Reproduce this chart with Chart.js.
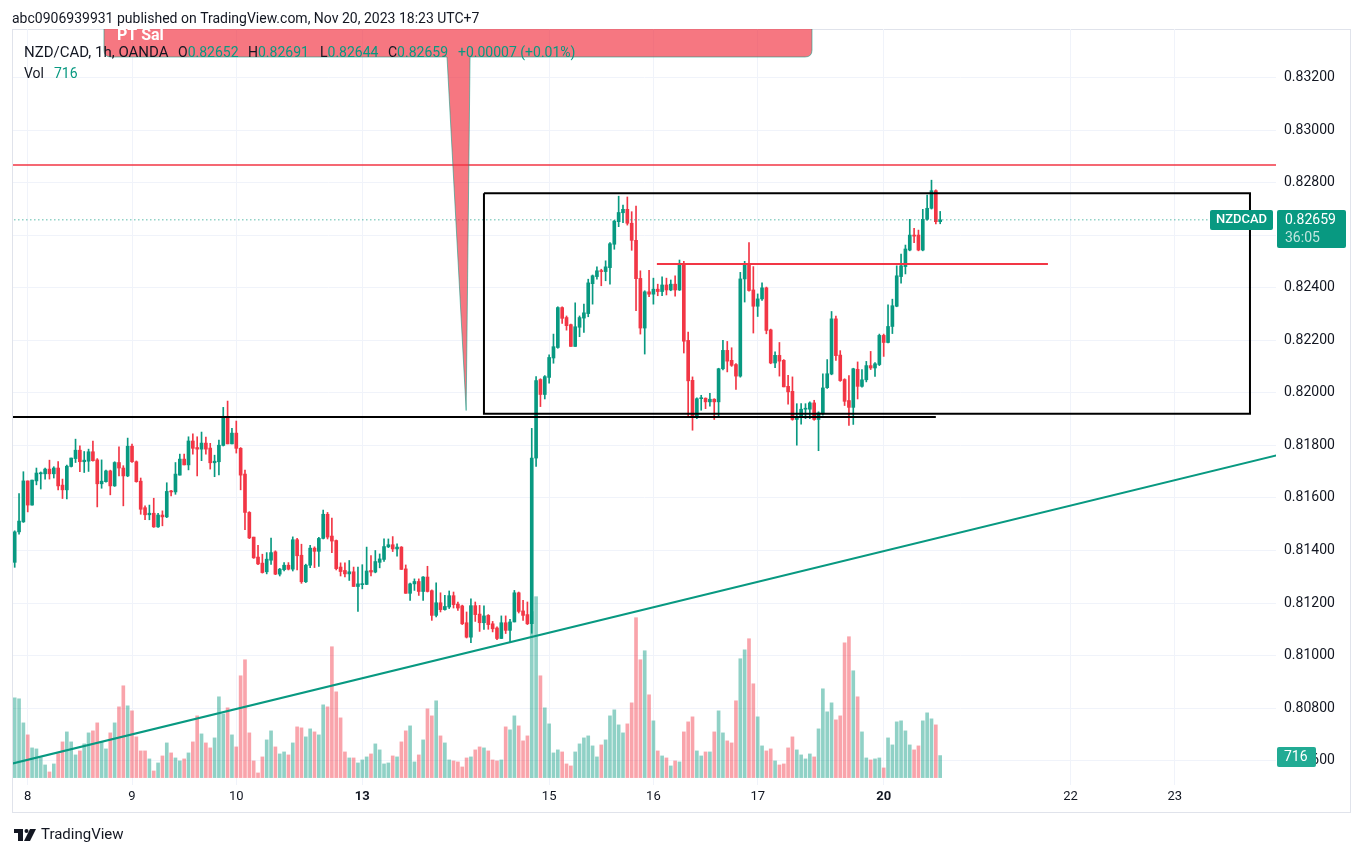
<!DOCTYPE html>
<html>
<head>
<meta charset="utf-8">
<title>NZD/CAD 1h</title>
<script src="https://cdn.jsdelivr.net/npm/chart.js@4.4.0/dist/chart.umd.min.js"></script>
<style>
  html, body { margin: 0; padding: 0; background: #ffffff; }
  #wrap { position: relative; width: 1364px; height: 857px; }
</style>
</head>
<body>
<div id="wrap"><canvas id="chart" width="1364" height="857"></canvas></div>
<script>
// hourly bars, index 0 = Nov 7 21:00 (UTC+7)
const opens = [
  0.81355, 0.81471, 0.81509, 0.81665, 0.81573, 0.81665, 0.81692, 0.81692, 0.81710, 0.81692,
  0.81714, 0.81649, 0.81631, 0.81720, 0.81750, 0.81782, 0.81738, 0.81740, 0.81776, 0.81745,
  0.81654, 0.81662, 0.81703, 0.81646, 0.81735, 0.81714, 0.81684, 0.81797, 0.81738, 0.81664,
  0.81563, 0.81536, 0.81542, 0.81490, 0.81535, 0.81528, 0.81626, 0.81623, 0.81687, 0.81748,
  0.81726, 0.81817, 0.81792, 0.81786, 0.81809, 0.81790, 0.81734, 0.81738, 0.81800, 0.81910,
  0.81806, 0.81847, 0.81789, 0.81691, 0.81545, 0.81451, 0.81375, 0.81352, 0.81319, 0.81363,
  0.81395, 0.81310, 0.81327, 0.81344, 0.81329, 0.81441, 0.81382, 0.81281, 0.81344, 0.81409,
  0.81397, 0.81446, 0.81538, 0.81455, 0.81438, 0.81337, 0.81324, 0.81311, 0.81319, 0.81263,
  0.81270, 0.81271, 0.81324, 0.81318, 0.81355, 0.81366, 0.81414, 0.81422, 0.81406, 0.81413,
  0.81330, 0.81237, 0.81273, 0.81282, 0.81244, 0.81299, 0.81247, 0.81153, 0.81201, 0.81175,
  0.81185, 0.81228, 0.81196, 0.81189, 0.81125, 0.81070, 0.81190, 0.81158, 0.81125, 0.81153,
  0.81121, 0.81105, 0.81065, 0.81125, 0.81096, 0.81128, 0.81239, 0.81170, 0.81156, 0.81121,
  0.81752, 0.82051, 0.81994, 0.82059, 0.82133, 0.82173, 0.82325, 0.82287, 0.82260, 0.82177,
  0.82250, 0.82285, 0.82302, 0.82416, 0.82443, 0.82465, 0.82462, 0.82477, 0.82566, 0.82652,
  0.82686, 0.82699, 0.82646, 0.82581, 0.82436, 0.82247, 0.82385, 0.82376, 0.82395, 0.82386,
  0.82411, 0.82392, 0.82414, 0.82392, 0.82491, 0.82200, 0.82048, 0.81909, 0.81978, 0.81980,
  0.81966, 0.81976, 0.81966, 0.82092, 0.82162, 0.82124, 0.82108, 0.82064, 0.82434, 0.82489,
  0.82392, 0.82330, 0.82358, 0.82400, 0.82240, 0.82114, 0.82143, 0.82124, 0.82025, 0.82006,
  0.81899, 0.81911, 0.81938, 0.81938, 0.81962, 0.81899, 0.81922, 0.82020, 0.82072, 0.82282,
  0.82144, 0.82051, 0.81971, 0.81945, 0.82090, 0.82025, 0.82050, 0.82104, 0.82095, 0.82108,
  0.82219, 0.82192, 0.82253, 0.82330, 0.82443, 0.82481, 0.82544, 0.82601, 0.82601, 0.82544,
  0.82661, 0.82703, 0.82770, 0.82652
];
const highs = [
  0.81475, 0.81617, 0.81700, 0.81665, 0.81668, 0.81714, 0.81699, 0.81714, 0.81744, 0.81719,
  0.81739, 0.81672, 0.81725, 0.81752, 0.81824, 0.81799, 0.81777, 0.81786, 0.81817, 0.81750,
  0.81745, 0.81706, 0.81706, 0.81738, 0.81795, 0.81723, 0.81828, 0.81805, 0.81741, 0.81676,
  0.81570, 0.81573, 0.81599, 0.81542, 0.81551, 0.81658, 0.81629, 0.81735, 0.81767, 0.81767,
  0.81833, 0.81844, 0.81833, 0.81851, 0.81832, 0.81808, 0.81763, 0.81820, 0.81945, 0.81969,
  0.81865, 0.81893, 0.81792, 0.81706, 0.81548, 0.81451, 0.81420, 0.81386, 0.81392, 0.81447,
  0.81399, 0.81332, 0.81354, 0.81354, 0.81452, 0.81446, 0.81424, 0.81348, 0.81420, 0.81414,
  0.81450, 0.81554, 0.81545, 0.81523, 0.81440, 0.81353, 0.81353, 0.81362, 0.81337, 0.81337,
  0.81346, 0.81413, 0.81381, 0.81400, 0.81387, 0.81444, 0.81444, 0.81453, 0.81425, 0.81415,
  0.81345, 0.81276, 0.81292, 0.81292, 0.81301, 0.81340, 0.81250, 0.81277, 0.81239, 0.81229,
  0.81246, 0.81242, 0.81204, 0.81192, 0.81166, 0.81216, 0.81204, 0.81191, 0.81189, 0.81156,
  0.81130, 0.81109, 0.81151, 0.81151, 0.81138, 0.81248, 0.81242, 0.81210, 0.81204, 0.81865,
  0.82062, 0.82054, 0.82066, 0.82145, 0.82224, 0.82328, 0.82328, 0.82293, 0.82262, 0.82343,
  0.82293, 0.82338, 0.82433, 0.82449, 0.82480, 0.82471, 0.82503, 0.82572, 0.82657, 0.82749,
  0.82715, 0.82746, 0.82690, 0.82711, 0.82465, 0.82389, 0.82467, 0.82437, 0.82414, 0.82442,
  0.82437, 0.82430, 0.82446, 0.82506, 0.82501, 0.82232, 0.82061, 0.81981, 0.81991, 0.81981,
  0.81998, 0.81978, 0.82094, 0.82200, 0.82196, 0.82172, 0.82112, 0.82459, 0.82501, 0.82572,
  0.82481, 0.82377, 0.82419, 0.82403, 0.82243, 0.82156, 0.82192, 0.82127, 0.82067, 0.82061,
  0.81959, 0.81959, 0.81959, 0.81966, 0.81972, 0.81928, 0.82073, 0.82127, 0.82310, 0.82293,
  0.82161, 0.82054, 0.82066, 0.82094, 0.82118, 0.82089, 0.82120, 0.82158, 0.82116, 0.82224,
  0.82224, 0.82335, 0.82357, 0.82484, 0.82529, 0.82563, 0.82661, 0.82627, 0.82620, 0.82699,
  0.82753, 0.82810, 0.82773, 0.82691
];
const lows = [
  0.81336, 0.81462, 0.81507, 0.81547, 0.81573, 0.81650, 0.81634, 0.81672, 0.81672, 0.81676,
  0.81631, 0.81598, 0.81596, 0.81718, 0.81735, 0.81700, 0.81697, 0.81701, 0.81740, 0.81566,
  0.81637, 0.81660, 0.81612, 0.81644, 0.81684, 0.81570, 0.81681, 0.81735, 0.81660, 0.81538,
  0.81517, 0.81517, 0.81488, 0.81488, 0.81494, 0.81525, 0.81608, 0.81614, 0.81687, 0.81726,
  0.81707, 0.81767, 0.81684, 0.81742, 0.81767, 0.81710, 0.81681, 0.81688, 0.81798, 0.81806,
  0.81806, 0.81771, 0.81631, 0.81479, 0.81445, 0.81370, 0.81346, 0.81314, 0.81311, 0.81347,
  0.81308, 0.81303, 0.81322, 0.81326, 0.81322, 0.81326, 0.81275, 0.81278, 0.81335, 0.81335,
  0.81339, 0.81444, 0.81444, 0.81392, 0.81326, 0.81303, 0.81299, 0.81286, 0.81263, 0.81168,
  0.81254, 0.81270, 0.81303, 0.81315, 0.81334, 0.81358, 0.81411, 0.81396, 0.81378, 0.81328,
  0.81237, 0.81210, 0.81248, 0.81229, 0.81210, 0.81242, 0.81134, 0.81147, 0.81166, 0.81173,
  0.81179, 0.81181, 0.81172, 0.81118, 0.81067, 0.81049, 0.81130, 0.81092, 0.81100, 0.81100,
  0.81090, 0.81061, 0.81065, 0.81084, 0.81052, 0.81128, 0.81162, 0.81134, 0.81118, 0.81085,
  0.81720, 0.81948, 0.81977, 0.82037, 0.82113, 0.82170, 0.82265, 0.82239, 0.82177, 0.82177,
  0.82214, 0.82230, 0.82290, 0.82338, 0.82433, 0.82408, 0.82427, 0.82414, 0.82547, 0.82633,
  0.82648, 0.82639, 0.82543, 0.82313, 0.82224, 0.82148, 0.82366, 0.82338, 0.82370, 0.82370,
  0.82373, 0.82389, 0.82368, 0.82390, 0.82152, 0.81909, 0.81858, 0.81902, 0.81934, 0.81940,
  0.81950, 0.81899, 0.81909, 0.82088, 0.82080, 0.82101, 0.82013, 0.82060, 0.82346, 0.82387,
  0.82228, 0.82291, 0.82352, 0.82225, 0.82111, 0.82096, 0.82064, 0.82023, 0.81957, 0.81896,
  0.81801, 0.81881, 0.81902, 0.81902, 0.81896, 0.81780, 0.81915, 0.82017, 0.82069, 0.82124,
  0.82044, 0.81952, 0.81876, 0.81880, 0.81977, 0.82022, 0.82042, 0.82089, 0.82063, 0.82104,
  0.82139, 0.82190, 0.82226, 0.82328, 0.82418, 0.82453, 0.82541, 0.82572, 0.82541, 0.82541,
  0.82658, 0.82700, 0.82643, 0.82644
];
const closes = [
  0.81471, 0.81512, 0.81665, 0.81573, 0.81668, 0.81695, 0.81696, 0.81710, 0.81692, 0.81714,
  0.81646, 0.81631, 0.81721, 0.81752, 0.81782, 0.81738, 0.81744, 0.81776, 0.81742, 0.81654,
  0.81664, 0.81703, 0.81646, 0.81735, 0.81714, 0.81684, 0.81797, 0.81738, 0.81662, 0.81557,
  0.81536, 0.81542, 0.81490, 0.81535, 0.81528, 0.81625, 0.81623, 0.81691, 0.81748, 0.81726,
  0.81817, 0.81789, 0.81786, 0.81809, 0.81786, 0.81734, 0.81740, 0.81801, 0.81910, 0.81806,
  0.81847, 0.81789, 0.81687, 0.81545, 0.81448, 0.81372, 0.81349, 0.81316, 0.81367, 0.81392,
  0.81310, 0.81329, 0.81344, 0.81329, 0.81441, 0.81380, 0.81281, 0.81344, 0.81409, 0.81397,
  0.81446, 0.81538, 0.81451, 0.81436, 0.81331, 0.81320, 0.81311, 0.81319, 0.81263, 0.81273,
  0.81273, 0.81322, 0.81318, 0.81358, 0.81368, 0.81415, 0.81422, 0.81406, 0.81413, 0.81328,
  0.81237, 0.81273, 0.81282, 0.81244, 0.81299, 0.81244, 0.81153, 0.81201, 0.81175, 0.81187,
  0.81228, 0.81194, 0.81181, 0.81121, 0.81070, 0.81190, 0.81156, 0.81125, 0.81151, 0.81118,
  0.81102, 0.81065, 0.81125, 0.81096, 0.81128, 0.81239, 0.81168, 0.81153, 0.81121, 0.81752,
  0.82047, 0.81994, 0.82062, 0.82135, 0.82176, 0.82325, 0.82284, 0.82256, 0.82177, 0.82252,
  0.82287, 0.82305, 0.82419, 0.82446, 0.82465, 0.82462, 0.82480, 0.82568, 0.82654, 0.82687,
  0.82699, 0.82646, 0.82581, 0.82435, 0.82247, 0.82385, 0.82376, 0.82395, 0.82386, 0.82411,
  0.82392, 0.82414, 0.82392, 0.82491, 0.82197, 0.82046, 0.81909, 0.81978, 0.81980, 0.81966,
  0.81976, 0.81966, 0.82092, 0.82162, 0.82121, 0.82105, 0.82064, 0.82434, 0.82489, 0.82390,
  0.82330, 0.82358, 0.82400, 0.82238, 0.82114, 0.82143, 0.82121, 0.82023, 0.82004, 0.81899,
  0.81911, 0.81938, 0.81940, 0.81962, 0.81899, 0.81924, 0.82019, 0.82073, 0.82282, 0.82142,
  0.82047, 0.81968, 0.81945, 0.82092, 0.82025, 0.82050, 0.82104, 0.82095, 0.82111, 0.82219,
  0.82192, 0.82253, 0.82332, 0.82446, 0.82484, 0.82548, 0.82601, 0.82597, 0.82544, 0.82661,
  0.82703, 0.82770, 0.82652, 0.82659
];
const volumes = [
  2593, 2561, 1779, 1389, 966, 933, 651, 412, 184, 445,
  781, 1161, 1486, 1161, 738, 868, 1096, 1454, 1519, 1779,
  1161, 933, 1454, 1779, 2300, 2984, 2333, 2170, 1324, 868,
  868, 608, 217, 477, 705, 1128, 803, 640, 543, 608,
  803, 1161, 2007, 1421, 1128, 966, 1291, 2626, 2072, 2268,
  1389, 998, 3309, 3830, 1454, 543, 152, 673, 1226, 1519,
  998, 770, 835, 738, 1128, 1649, 1617, 1324, 1584, 1486,
  1389, 2365, 2300, 4253, 2788, 1942, 835, 640, 640, 477,
  575, 673, 770, 1096, 901, 445, 477, 705, 673, 1161,
  1519, 1682, 510, 738, 1226, 2235, 2007, 2496, 1356, 1128,
  575, 543, 510, 347, 640, 673, 901, 998, 966, 868,
  575, 543, 575, 1649, 1552, 2007, 1682, 1194, 1356, 5400,
  5880, 3309, 2268, 1747, 803, 901, 835, 445, 380, 835,
  1096, 1291, 1356, 1031, 673, 1063, 1226, 2007, 2203, 1714,
  1454, 1747, 2430, 5197, 3830, 4123, 2691, 1845, 868, 705,
  640, 380, 543, 510, 1486, 1812, 1975, 868, 705, 835,
  835, 1486, 2170, 1454, 1194, 1128, 2496, 3863, 4156, 4514,
  3049, 1975, 1031, 868, 933, 543, 412, 445, 966, 1324,
  901, 738, 608, 770, 673, 1584, 2886, 2138, 2430, 1877,
  2007, 4383, 4579, 3472, 2626, 1486, 640, 575, 608, 640,
  315, 1291, 1063, 1812, 1845, 1519, 1063, 901, 1031, 1845,
  2105, 1910, 1714, 716
];

// time axis: bar index where each day label sits
const dayTicks = [3, 27, 51, 80, 123, 147, 171, 200, 243, 267];
const dayLabels = ['8', '9', '10', '13', '15', '16', '17', '20', '22', '23'];
const boldDays = ['13', '20'];
const priceTicks = [0.806, 0.808, 0.810, 0.812, 0.814, 0.816, 0.818, 0.820, 0.822, 0.824, 0.826, 0.828, 0.830, 0.832];

// drawings (bar index, price)
const resistanceTop = [[-5, 0.82868], [300, 0.82868]];
const rangeBox = [[108, 0.82760], [284.3, 0.82760], [284.3, 0.81921], [108, 0.81921], [108, 0.82760]];
const supportLine = [[-5, 0.81908], [212, 0.81908]];
const midLine = [[147.8, 0.82491], [237.8, 0.82491]];
const trendLine = [[-4, 0.80575], [292, 0.81769]];
const calloutSpan = [20.55, 183.5];
const calloutBottom = 0.83279;
const calloutNeck = [99.5, 104.8];
const calloutTip = [103.9, 0.81933];

const GREEN = '#089981';
const RED = '#F23645';
const TEXT = '#131722';
const FONT = 'Roboto, "Liberation Sans", sans-serif';

const idx = closes.map((_, i) => i);
const last = closes.length - 1;
const up = idx.map(i => closes[i] >= opens[i]);

const toPts = arr => arr.map(p => ({ x: p[0], y: p[1] }));

function lineDs(points, color, width, dash) {
  return {
    type: 'line',
    data: toPts(points),
    yAxisID: 'y',
    borderColor: color,
    borderWidth: width,
    borderDash: dash || [],
    pointRadius: 0,
    tension: 0,
    order: 1
  };
}

function drawPair(ctx, label, value, x, y) {
  ctx.fillStyle = TEXT;
  ctx.fillText(label, x, y);
  ctx.fillStyle = GREEN;
  ctx.fillText(value, x + ctx.measureText(label).width, y);
}

function roundBox(ctx, x, y, w, h, r, color) {
  ctx.beginPath();
  ctx.roundRect(x, y, w, h, r);
  ctx.fillStyle = color;
  ctx.fill();
}

const overlay = {
  id: 'overlay',
  beforeDraw(chart) {
    const ctx = chart.ctx;
    ctx.save();
    ctx.strokeStyle = '#e0e3eb';
    ctx.lineWidth = 1;
    ctx.strokeRect(12.5, 29.5, 1338, 783);
    ctx.restore();
  },
  afterDatasetsDraw(chart) {
    const { ctx, chartArea: a, scales: { x, y } } = chart;
    ctx.save();
    ctx.beginPath();
    ctx.rect(a.left, a.top, a.right - a.left, a.bottom - a.top);
    ctx.clip();
    const l = x.getPixelForValue(calloutSpan[0]);
    const r = x.getPixelForValue(calloutSpan[1]);
    const b = y.getPixelForValue(calloutBottom);
    const t = a.top - 30;
    const nl = x.getPixelForValue(calloutNeck[0]);
    const nr = x.getPixelForValue(calloutNeck[1]);
    const tx = x.getPixelForValue(calloutTip[0]);
    const ty = y.getPixelForValue(calloutTip[1]);
    const rad = 7;
    ctx.beginPath();
    ctx.moveTo(l, t);
    ctx.lineTo(r, t);
    ctx.lineTo(r, b - rad);
    ctx.quadraticCurveTo(r, b, r - rad, b);
    ctx.lineTo(nr, b);
    ctx.lineTo(tx, ty);
    ctx.lineTo(nl, b);
    ctx.lineTo(l + rad, b);
    ctx.quadraticCurveTo(l, b, l, b - rad);
    ctx.closePath();
    ctx.fillStyle = 'rgba(242, 54, 69, 0.68)';
    ctx.fill();
    ctx.strokeStyle = 'rgba(8, 153, 129, 0.55)';
    ctx.lineWidth = 1;
    ctx.stroke();
    ctx.fillStyle = '#ffffff';
    ctx.font = 'bold 16px ' + FONT;
    ctx.textBaseline = 'alphabetic';
    ctx.fillText('PT Sal', l + 13, a.top + 11);
    ctx.restore();
  },
  afterDraw(chart) {
    const { ctx, scales: { y } } = chart;
    ctx.save();
    ctx.textBaseline = 'middle';

    // publish line
    ctx.font = '14px ' + FONT;
    ctx.fillStyle = TEXT;
    ctx.fillText('abc0906939931 published on TradingView.com, Nov 20, 2023 18:23 UTC+7', 12, 19);

    // legend
    const f = v => v.toFixed(5);
    const chg = closes[last] - closes[last - 1];
    const pct = chg / closes[last - 1] * 100;
    ctx.font = '15px ' + FONT;
    ctx.fillStyle = TEXT;
    ctx.fillText('NZD/CAD, 1h, OANDA', 24, 53);
    ctx.font = '14px ' + FONT;
    drawPair(ctx, 'O', f(opens[last]), 178, 53);
    drawPair(ctx, 'H', f(highs[last]), 248, 53);
    drawPair(ctx, 'L', f(lows[last]), 320, 53);
    drawPair(ctx, 'C', f(closes[last]), 388, 53);
    drawPair(ctx, '', (chg >= 0 ? '+' : '') + f(chg) + ' (' + (pct >= 0 ? '+' : '') + pct.toFixed(2) + '%)', 458, 53);
    ctx.fillStyle = TEXT;
    ctx.fillText('Vol', 24, 74);
    ctx.fillStyle = GREEN;
    ctx.fillText(String(volumes[last]), 54, 74);

    // last price labels
    const py = Math.round(y.getPixelForValue(closes[last]));
    roundBox(ctx, 1210, py - 10, 63, 20, 2, GREEN);
    roundBox(ctx, 1277, py - 10, 69, 38, 2, GREEN);
    ctx.fillStyle = '#ffffff';
    ctx.font = '500 13px ' + FONT;
    ctx.textAlign = 'center';
    ctx.fillText('NZDCAD', 1241.5, py);
    ctx.textAlign = 'left';
    ctx.font = '14px ' + FONT;
    ctx.fillText(f(closes[last]), 1285, py);
    ctx.fillStyle = 'rgba(255,255,255,0.75)';
    ctx.fillText('36:05', 1285, py + 18);

    // volume label
    roundBox(ctx, 1277, 747, 39, 20, 2, '#22ab94');
    ctx.fillStyle = '#ffffff';
    ctx.fillText(String(volumes[last]), 1284, 757);

    // footer logo
    ctx.fillStyle = TEXT;
    ctx.fillRect(14, 829, 9, 4);
    ctx.fillRect(18, 829, 5, 12);
    ctx.beginPath();
    ctx.arc(26.5, 831, 2, 0, Math.PI * 2);
    ctx.fill();
    ctx.beginPath();
    ctx.moveTo(30, 829); ctx.lineTo(36, 829); ctx.lineTo(30, 841); ctx.lineTo(24, 841);
    ctx.closePath();
    ctx.fill();
    ctx.font = '15px ' + FONT;
    ctx.fillText('TradingView', 41, 835);
    ctx.restore();
  }
};

new Chart(document.getElementById('chart'), {
  type: 'bar',
  data: {
    datasets: [
      {
        label: 'Volume',
        data: idx.map(i => ({ x: i, y: volumes[i] })),
        yAxisID: 'yv',
        backgroundColor: idx.map(i => up[i] ? 'rgba(8,153,129,0.45)' : 'rgba(242,54,69,0.45)'),
        barThickness: 3,
        grouped: false,
        order: 5
      },
      {
        label: 'Wick',
        data: idx.map(i => ({ x: i, y: [lows[i], highs[i]] })),
        yAxisID: 'y',
        backgroundColor: idx.map(i => up[i] ? GREEN : RED),
        barThickness: 1,
        grouped: false,
        order: 4
      },
      {
        label: 'Body',
        data: idx.map(i => ({ x: i, y: [opens[i], closes[i]] })),
        yAxisID: 'y',
        backgroundColor: idx.map(i => up[i] ? GREEN : RED),
        barThickness: 3,
        minBarLength: 1,
        grouped: false,
        order: 3
      },
      lineDs(trendLine, GREEN, 2),
      lineDs(resistanceTop, RED, 1.5),
      lineDs(rangeBox, '#000000', 2),
      lineDs(supportLine, '#000000', 2),
      lineDs(midLine, RED, 2),
      lineDs([[-1, closes[last]], [275.1, closes[last]]], GREEN, 1, [1, 3])
    ]
  },
  options: {
    responsive: false,
    animation: false,
    events: [],
    layout: { padding: { top: 29, left: 13, right: 14, bottom: 45 } },
    plugins: { legend: { display: false }, tooltip: { enabled: false } },
    scales: {
      x: {
        type: 'linear',
        min: -0.391,
        max: 290.29,
        offset: false,
        afterFit: s => { s.height = 27; },
        afterBuildTicks: s => { s.ticks = dayTicks.map(v => ({ value: v })); },
        ticks: {
          autoSkip: false,
          maxRotation: 0,
          padding: 4,
          color: TEXT,
          font: c => ({ family: FONT, size: 13, weight: boldDays.includes(dayLabels[c.index]) ? 'bold' : 'normal' }),
          callback: v => { const k = dayTicks.indexOf(v); return k >= 0 ? dayLabels[k] : ''; }
        },
        grid: { color: '#f0f3fa', drawTicks: false, offset: false },
        border: { display: false }
      },
      y: {
        type: 'linear',
        position: 'right',
        min: 0.805072,
        max: 0.833856,
        afterFit: s => { s.width = 74; },
        afterBuildTicks: s => { s.ticks = priceTicks.map(v => ({ value: v })); },
        ticks: {
          padding: 8,
          color: TEXT,
          font: { family: FONT, size: 14 },
          callback: v => v.toFixed(5)
        },
        grid: { color: '#f0f3fa', drawTicks: false },
        border: { display: false }
      },
      yv: {
        type: 'linear',
        display: false,
        min: -240,
        max: 24330
      }
    }
  },
  plugins: [overlay]
});
</script>
</body>
</html>
